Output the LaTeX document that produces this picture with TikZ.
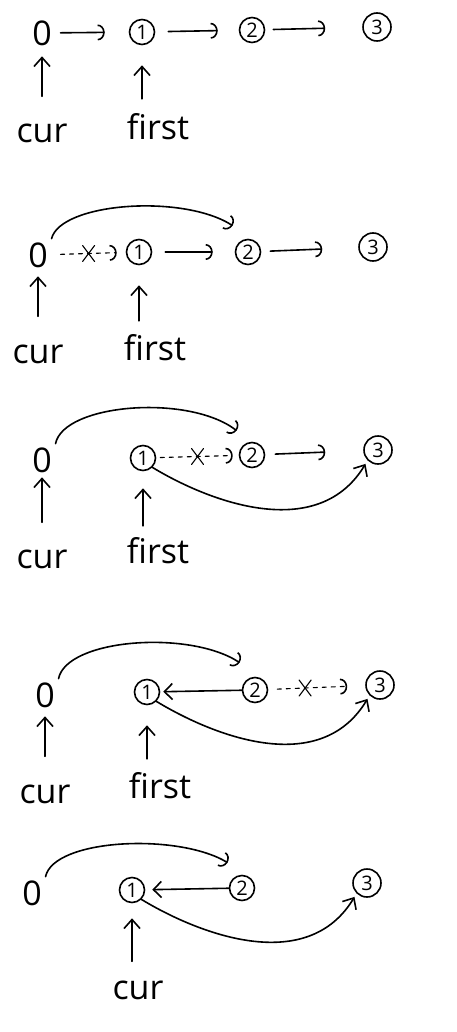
\documentclass[tikz,border=0pt]{standalone}
\usepackage{fontspec}
\setmainfont{Open Sans}
\usetikzlibrary{arrows.meta}

\tikzset{
  num/.style={circle,draw,line width=1.6pt,minimum size=25pt,inner sep=0pt,font=\fontsize{20}{20}\selectfont},
  big/.style={num,minimum size=28pt},
  zero/.style={inner sep=3pt,font=\fontsize{34}{34}\selectfont},
  lbl/.style={anchor=base,font=\fontsize{34}{34}\selectfont},
  nxt/.style={-{Arc Barb[length=7pt,width=16pt,line width=1.6pt]}},
  cut/.style={nxt,line width=1.1pt,dash pattern=on 4pt off 5pt},
  ptr/.style={-{Straight Barb[length=9pt,width=16pt]}},
  back/.style={-{Straight Barb[length=8pt,width=16pt]}},
  xmark/.style={line width=1.1pt},
}
\newcommand\crossat[1]{%
  \draw[xmark] ([shift={(-0.6,-0.8)}]#1) -- ([shift={(0.6,0.8)}]#1)
    ([shift={(-0.6,0.8)}]#1) -- ([shift={(0.6,-0.8)}]#1);}

\begin{document}
\begin{tikzpicture}[x=10pt,y=-10pt,line width=1.6pt,line cap=round]
\useasboundingbox (0,0) rectangle (45.6,103.2);

% step 1
\node[zero] (a0) at (4.2,3.3) {0};
\node[num] (a1) at (14.2,3.2) {1};
\node[num] (a2) at (25.2,3.0) {2};
\node[big] (a3) at (37.7,2.7) {3};
\node[lbl] (cur1) at (4.2,14.3) {cur};
\node[lbl] (first1) at (15.8,14.0) {first};
\draw[nxt,shorten <=5pt,shorten >=24pt] (a0) -- (a1);
\draw[nxt,shorten <=13pt,shorten >=21pt] (a1) -- (a2);
\draw[nxt,shorten <=8pt,shorten >=37pt] (a2) -- (a3);
\draw[ptr,shorten <=24pt,shorten >=7pt] (cur1) -- (a0);
\draw[ptr,shorten <=11pt,shorten >=20pt] (a1 |- first1.north) -- (a1);

% step 2
\node[zero] (b0) at (3.8,25.5) {0};
\node[num] (b1) at (13.9,25.2) {1};
\node[num] (b2) at (24.8,25.2) {2};
\node[big] (b3) at (37.3,24.7) {3};
\node[lbl] (cur2) at (3.8,36.3) {cur};
\node[lbl] (first2) at (15.5,36.0) {first};
\draw[cut,shorten <=9pt,shorten >=9pt] (b0) -- coordinate (bx) (b1);
\crossat{bx}
\draw[nxt,shorten <=13pt,shorten >=22pt] (b1) -- (b2);
\draw[nxt,shorten <=9pt,shorten >=36pt] (b2) -- (b3);
\draw[nxt] (b0.north east) .. controls +(0.9,-3.6) and +(-5.0,-3.2) .. ([shift={(-0.6,-1.7)}]b2.north west);
\draw[ptr,shorten <=24pt,shorten >=5pt] (cur2) -- (b0);
\draw[ptr,shorten <=9pt,shorten >=20pt] (b1 |- first2.north) -- (b1);

% step 3
\node[zero] (c0) at (4.2,46.0) {0};
\node[num] (c1) at (14.3,45.8) {1};
\node[num] (c2) at (25.2,45.5) {2};
\node[big] (c3) at (37.8,45.0) {3};
\node[lbl] (cur3) at (4.2,56.8) {cur};
\node[lbl] (first3) at (15.8,56.3) {first};
\draw[cut,shorten <=4pt,shorten >=6pt] (c1) -- coordinate (cx) (c2);
\crossat{cx}
\draw[nxt,shorten <=10pt,shorten >=38pt] (c2) -- (c3);
\draw[nxt] (c0.north east) .. controls +(0.8,-4.0) and +(-4.8,-3.7) .. ([shift={(-0.6,-1.5)}]c2.north west);
\draw[ptr,shorten >=4pt] (c1.south east) .. controls +(6.3,3.8) and +(-4.8,8.0) .. (c3.south west);
\draw[ptr,shorten <=23pt,shorten >=1pt] (cur3) -- (c0);
\draw[ptr,shorten <=7pt,shorten >=17pt] (c1 |- first3.north) -- (c1);

% step 4
\node[zero] (d0) at (4.5,69.5) {0};
\node[num] (d1) at (14.7,69.2) {1};
\node[num] (d2) at (25.5,69.0) {2};
\node[big] (d3) at (38.0,68.5) {3};
\node[lbl] (cur4) at (4.5,80.3) {cur};
\node[lbl] (first4) at (16.0,79.8) {first};
\draw[back,shorten >=3pt] (d2) -- (d1);
\draw[cut,shorten <=9pt,shorten >=18pt] (d2) -- coordinate[pos=.38] (dx) (d3);
\crossat{dx}
\draw[nxt] (d0.north east) .. controls +(0.8,-4.0) and +(-5.0,-3.3) .. ([shift={(-0.6,-1.8)}]d2.north west);
\draw[ptr,shorten >=4pt] (d1.south east) .. controls +(6.3,3.8) and +(-4.8,8.0) .. (d3.south west);
\draw[ptr,shorten <=24pt,shorten >=5pt] (cur4) -- (d0);
\draw[ptr,shorten <=9pt,shorten >=20pt] (d1 |- first4.north) -- (d1);

% step 5
\node[zero] (e0) at (3.2,89.3) {0};
\node[num] (e1) at (13.2,89.0) {1};
\node[num] (e2) at (24.2,88.8) {2};
\node[big] (e3) at (36.7,88.3) {3};
\node[lbl] (cur5) at (13.8,99.9) {cur};
\draw[back,shorten >=7pt] (e2) -- (e1);
\draw[nxt] (e0.north east) .. controls +(0.8,-3.8) and +(-5.0,-3.0) .. ([shift={(-0.5,-1.6)}]e2.north west);
\draw[ptr,shorten >=4pt] (e1.south east) .. controls +(6.3,3.8) and +(-4.8,8.0) .. (e3.south west);
\draw[ptr,shorten <=15pt,shorten >=15pt] (e1 |- cur5.north) -- (e1);
\end{tikzpicture}
\end{document}
